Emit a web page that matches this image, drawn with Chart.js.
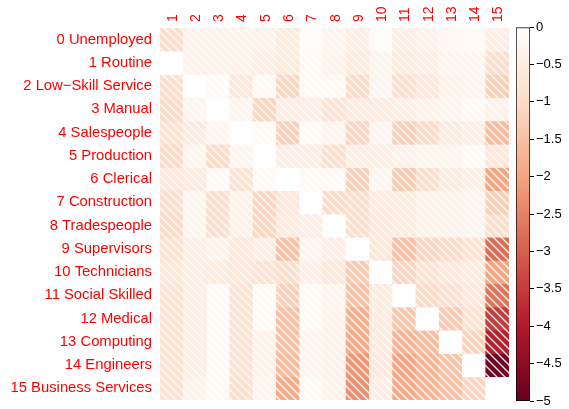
<!DOCTYPE html>
<html lang="en">
<head>
<meta charset="UTF-8">
<title>Occupation Heatmap</title>
<script src="https://cdn.jsdelivr.net/npm/chart.js"></script>
<style>
    body { margin: 0; background: #fff; }
    #wrap { position: relative; width: 569px; height: 409px; }
    #heatChart { position: absolute; left: 0; top: 0; }
    #barChart { position: absolute; left: 490px; top: 0; }
</style>
</head>
<body>
<div id="wrap">
    <canvas id="heatChart" width="569" height="409"></canvas>
    <canvas id="barChart" width="79" height="409"></canvas>
</div>
<script>
const rowLabels = [
    '0 Unemployed', '1 Routine', '2 Low\u2212Skill Service', '3 Manual',
    '4 Salespeople', '5 Production', '6 Clerical', '7 Construction',
    '8 Tradespeople', '9 Supervisors', '10 Technicians', '11 Social Skilled',
    '12 Medical', '13 Computing', '14 Engineers', '15 Business Services'
];
const colLabels = ['1', '2', '3', '4', '5', '6', '7', '8', '9', '10', '11', '12', '13', '14', '15'];

// one row per origin occupation, columns 1..15
const values = [
    [-0.9, -0.4, -0.4, -0.4, -0.4, -0.6, -0.1, -0.3, -0.5, -0.1, -0.5, -0.4, -0.2, -0.15, -0.5],
    [0, -0.4, -0.4, -0.4, -0.5, -0.6, -0.2, -0.35, -0.6, -0.3, -0.6, -0.5, -0.3, -0.3, -0.9],
    [-0.9, 0, -0.15, -0.7, -0.2, -1.1, -0.2, -0.2, -1.0, -0.3, -0.9, -0.7, -0.4, -0.3, -1.2],
    [-1.0, -0.3, 0, -0.3, -1.1, -0.5, -0.5, -0.8, -0.6, -0.6, -0.5, -0.4, -0.3, -0.2, -0.4],
    [-0.8, -0.6, -0.3, 0, -0.2, -1.2, -0.2, -0.3, -1.1, -0.3, -1.2, -1.0, -0.6, -0.5, -1.6],
    [-1.0, -0.3, -1.0, -0.3, 0, -0.5, -0.5, -0.9, -0.5, -0.5, -0.4, -0.3, -0.3, -0.2, -0.7],
    [-0.7, -0.6, -0.2, -0.8, -0.2, 0, -0.2, -0.2, -1.2, -0.3, -1.3, -0.9, -0.6, -0.5, -2.0],
    [-0.9, -0.3, -0.9, -0.4, -1.1, -0.7, 0, -1.0, -0.9, -0.6, -0.6, -0.4, -0.4, -0.3, -1.2],
    [-1.0, -0.3, -0.9, -0.4, -1.1, -0.6, -0.5, 0, -0.9, -0.7, -0.6, -0.4, -0.4, -0.3, -0.9],
    [-0.8, -0.5, -0.4, -0.7, -0.5, -1.5, -0.3, -0.5, 0, -0.7, -1.5, -1.1, -1.0, -0.8, -2.8],
    [-0.7, -0.5, -0.6, -0.7, -0.8, -0.9, -0.5, -0.7, -1.3, 0, -1.1, -0.8, -0.7, -0.6, -2.0],
    [-0.8, -0.5, -0.2, -0.8, -0.2, -1.2, -0.2, -0.3, -1.5, -0.6, 0, -1.0, -0.85, -0.7, -2.7],
    [-0.8, -0.5, -0.2, -0.8, -0.2, -1.5, -0.2, -0.35, -1.8, -0.6, -1.4, 0, -1.3, -0.8, -3.5],
    [-0.8, -0.5, -0.2, -0.8, -0.4, -1.5, -0.3, -0.4, -1.9, -0.6, -1.7, -1.55, 0, -1.15, -3.9],
    [-0.8, -0.5, -0.2, -0.8, -0.4, -1.6, -0.3, -0.4, -2.2, -0.7, -2.0, -1.7, -1.45, 0, -4.8],
    [-0.8, -0.4, -0.2, -0.9, -0.3, -1.9, -0.2, -0.35, -2.3, -0.5, -1.9, -1.7, -1.5, -1.1, 0]
];

// cells drawn without hatching besides the diagonal: [row, column label]
const plainCells = [[0, '7'], [0, '10'], [0, '13'], [0, '14']];

const cmapStops = [0, -1, -2, -3, -4, -5];
const cmapColors = ['#ffffff', '#fddbc7', '#f4a582', '#d6604d', '#b2182b', '#67001f'];
const cbarTicks = [0, -0.5, -1, -1.5, -2, -2.5, -3, -3.5, -4, -4.5, -5];

const font = { family: 'Liberation Sans, Arial, Helvetica, sans-serif' };

function hexToRgb(h) {
    return [1, 3, 5].map(i => parseInt(h.substr(i, 2), 16));
}

function colorFor(v) {
    for (let i = 0; i < cmapStops.length - 1; i++) {
        const a = cmapStops[i], b = cmapStops[i + 1];
        if (v <= a && v >= b) {
            const t = (a - v) / (a - b);
            const c1 = hexToRgb(cmapColors[i]), c2 = hexToRgb(cmapColors[i + 1]);
            const c = c1.map((x, k) => Math.round(x + (c2[k] - x) * t));
            return 'rgb(' + c.join(',') + ')';
        }
    }
    return cmapColors[cmapColors.length - 1];
}

function hatched(color) {
    const s = 8;
    const tile = document.createElement('canvas');
    tile.width = s;
    tile.height = s;
    const c = tile.getContext('2d');
    c.fillStyle = color;
    c.fillRect(0, 0, s, s);
    c.strokeStyle = 'rgba(255,255,255,0.9)';
    c.lineWidth = 1.3;
    c.beginPath();
    c.moveTo(0, 0); c.lineTo(s, s);
    c.moveTo(-1, s - 1); c.lineTo(1, s + 1);
    c.moveTo(s - 1, -1); c.lineTo(s + 1, 1);
    c.stroke();
    return c.createPattern(tile, 'repeat');
}

function isPlain(r, j) {
    if (values[r][j] === 0) return true;
    return plainCells.some(p => p[0] === r && p[1] === colLabels[j]);
}

const heatCtx = document.getElementById('heatChart').getContext('2d');
const datasets = rowLabels.map((name, r) => ({
    label: name,
    data: colLabels.map(() => [r, r + 1]),
    backgroundColor: colLabels.map((c, j) => {
        const col = colorFor(values[r][j]);
        return isPlain(r, j) ? col : hatched(col);
    }),
    borderWidth: 0,
    grouped: false,
    categoryPercentage: 1,
    barPercentage: 1
}));

new Chart(heatCtx, {
    type: 'bar',
    data: { labels: colLabels, datasets: datasets },
    options: {
        responsive: false,
        animation: false,
        layout: { padding: { left: 0, right: 60, top: 0, bottom: 9 } },
        plugins: { legend: { display: false }, tooltip: { enabled: false } },
        scales: {
            x: {
                position: 'top',
                grid: { display: false, drawTicks: false },
                border: { display: false },
                ticks: {
                    color: '#ff0000',
                    font: { ...font, size: 14 },
                    minRotation: 90,
                    maxRotation: 90,
                    autoSkip: false,
                    padding: 6,
                    labelOffset: 18
                },
                afterFit: s => { s.height = 28; }
            },
            y: {
                type: 'linear',
                min: 0,
                max: 16,
                reverse: true,
                grid: { display: false, drawTicks: false },
                border: { display: false },
                afterBuildTicks: s => { s.ticks = rowLabels.map((_, i) => ({ value: i + 0.5 })); },
                ticks: {
                    color: '#ff0000',
                    font: { ...font, size: 14.8 },
                    autoSkip: false,
                    padding: 8,
                    callback: (v, i) => rowLabels[i]
                },
                afterFit: s => {
                    s.width = 160;
                    s.paddingTop = 0;
                    s.paddingBottom = 0;
                }
            }
        }
    }
});

// colour bar
const barCtx = document.getElementById('barChart').getContext('2d');
new Chart(barCtx, {
    type: 'bar',
    data: {
        labels: [''],
        datasets: [{
            data: [[0, -5]],
            backgroundColor: ctx => {
                const area = ctx.chart.chartArea;
                if (!area) return cmapColors[0];
                const g = ctx.chart.ctx.createLinearGradient(0, area.top, 0, area.bottom);
                cmapStops.forEach((v, i) => g.addColorStop(-v / 5, cmapColors[i]));
                return g;
            },
            borderColor: '#000',
            borderWidth: 1,
            borderSkipped: false,
            categoryPercentage: 1,
            barPercentage: 1
        }]
    },
    options: {
        responsive: false,
        animation: false,
        layout: { padding: { left: 26, right: 0, top: 27, bottom: 8 } },
        plugins: { legend: { display: false }, tooltip: { enabled: false } },
        scales: {
            x: { display: false },
            y: {
                position: 'right',
                min: -5,
                max: 0,
                grid: { drawOnChartArea: false, drawTicks: true, tickLength: 4, color: '#000' },
                border: { display: false },
                afterBuildTicks: s => { s.ticks = cbarTicks.map(v => ({ value: v })); },
                ticks: {
                    color: '#000',
                    font: { ...font, size: 13 },
                    padding: 2,
                    callback: v => v === 0 ? '0' : '\u2212' + Math.abs(v)
                },
                afterFit: s => {
                    s.width = 39;
                    s.paddingTop = 0;
                    s.paddingBottom = 0;
                }
            }
        }
    }
});
</script>
</body>
</html>
